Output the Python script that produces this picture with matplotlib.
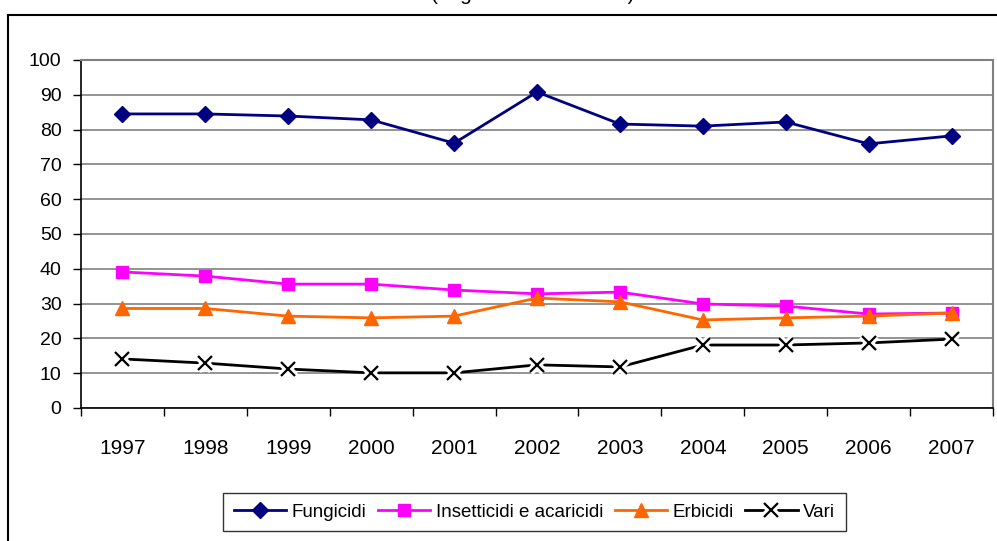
import numpy as np
import matplotlib
matplotlib.use("Agg")
import matplotlib.pyplot as plt
from matplotlib.lines import Line2D
from matplotlib.legend_handler import HandlerTuple

plt.rcParams['font.family'] = ['Liberation Sans', 'DejaVu Sans']

years = ["1997", "1998", "1999", "2000", "2001", "2002", "2003", "2004", "2005", "2006", "2007"]
fungicidi = [84.5, 84.5, 83.9, 82.8, 76.1, 90.8, 81.6, 81.0, 82.2, 75.9, 78.2]
insetticidi = [39.1, 37.9, 35.6, 35.6, 33.9, 32.8, 33.3, 29.9, 29.3, 27.0, 27.3]
erbicidi = [28.6, 28.6, 26.4, 25.9, 26.4, 31.6, 30.5, 25.3, 25.9, 26.4, 27.3]
vari = [14.1, 12.9, 11.2, 10.1, 10.1, 12.4, 11.8, 18.1, 18.1, 18.7, 19.8]
labels = ["Fungicidi", "Insetticidi e acaricidi", "Erbicidi", "Vari"]
title = "(migliaia di tonnellate)"

W, H = 997, 541
fig = plt.figure(figsize=(W / 100, H / 100), dpi=100)
ax = fig.add_axes([81 / W, 1 - 408 / H, (993 - 81) / W, (408 - 60) / H])

x = np.arange(len(years))

h1, = ax.plot(x, fungicidi, color="#000080", lw=2, marker="D", ms=8.5, zorder=3)
h2, = ax.plot(x, insetticidi, color="#FF00FF", lw=2, marker="s", ms=8.5, zorder=3)
h3, = ax.plot(x, erbicidi, color="#FF6600", lw=2, marker="^", ms=10, zorder=3)
l4, = ax.plot(x, vari, color="black", lw=2, zorder=3)
w4, = ax.plot(x, vari, ls="none", marker="x", ms=10, mew=6, color="white", zorder=4)
m4, = ax.plot(x, vari, ls="none", marker="x", ms=10, mew=1.6, color="black", zorder=5)

ax.set_xlim(-0.5, len(years) - 0.5)
ax.set_ylim(0, 100)
ax.set_yticks(np.arange(0, 101, 10))
ax.set_xticks(x)
ax.set_xticklabels(years, fontsize=15)
ax.set_xticks(np.arange(-0.5, len(years)), minor=True)
ax.tick_params(axis="x", which="major", length=0, pad=22)
ax.tick_params(axis="x", which="minor", length=6, width=1, direction="out")
ax.tick_params(axis="y", length=6, width=1, pad=8, labelsize=14)

ax.grid(axis="y", color="#808080", lw=1.2, zorder=1)
ax.set_axisbelow(True)
for s in ["top", "right"]:
    ax.spines[s].set_color("#808080")
    ax.spines[s].set_linewidth(1.5)
for s in ["left", "bottom"]:
    ax.spines[s].set_color("black")
    ax.spines[s].set_linewidth(1.2)

# outer chart frame (cut off at right and bottom)
fig.add_artist(Line2D([8 / W, 1.0], [1 - 14.5 / H] * 2, color="black", lw=1.5, transform=fig.transFigure))
fig.add_artist(Line2D([8 / W] * 2, [1 - 14.5 / H, 0], color="black", lw=1.5, transform=fig.transFigure))

# title, only its lower edge is inside the picture
fig.text(533 / W, 1 + 0.5 / H, title, ha="center", va="baseline", fontsize=15)

leg = fig.legend([h1, h2, h3, (l4, w4, m4)], labels,
                 handler_map={tuple: HandlerTuple(ndivide=1)},
                 loc="center", bbox_to_anchor=(534.5 / W, 1 - 512 / H), ncol=4,
                 fontsize=13.5, frameon=True, fancybox=False, handlelength=2.8,
                 handletextpad=0.3, columnspacing=0.6, borderpad=0.55)
leg.get_frame().set_edgecolor("black")
leg.get_frame().set_linewidth(1)

fig.savefig("out.png", dpi=100)
